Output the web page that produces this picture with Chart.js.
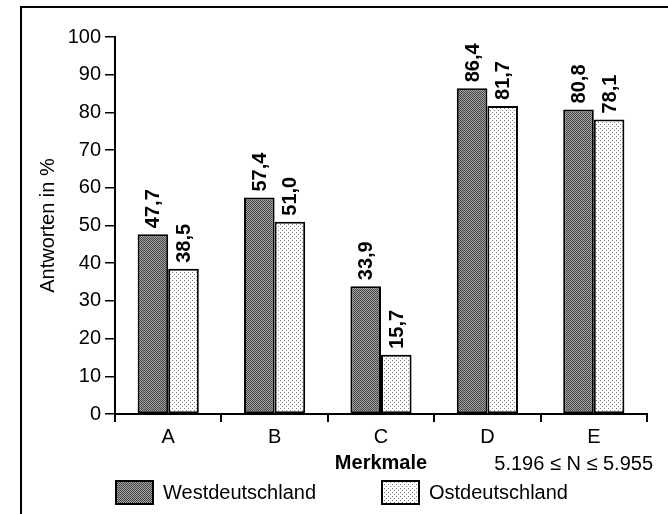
<!DOCTYPE html>
<html>
<head>
<meta charset="utf-8">
<script src="https://cdn.jsdelivr.net/npm/chart.js@4.4.1/dist/chart.umd.min.js"></script>
<style>
  html, body { margin: 0; padding: 0; background: #fff; }
  #wrap { width: 668px; height: 514px; position: relative; }
</style>
</head>
<body>
<div id="wrap"><canvas id="chart" width="668" height="514"></canvas></div>
<script>
// data
const categories = ['A', 'B', 'C', 'D', 'E'];
const westValues = [47.7, 57.4, 33.9, 86.4, 80.8];
const eastValues = [38.5, 51.0, 15.7, 81.7, 78.1];
const seriesNames = ['Westdeutschland', 'Ostdeutschland'];
const yTicks = [0, 10, 20, 30, 40, 50, 60, 70, 80, 90, 100];
const noteText = '5.196 \u2264 N \u2264 5.955';

const FONT = 'Arial, "Liberation Sans", sans-serif';

function makePattern(size, bg, fg, dots) {
    const c = document.createElement('canvas');
    c.width = size; c.height = size;
    const g = c.getContext('2d');
    g.fillStyle = bg;
    g.fillRect(0, 0, size, size);
    g.fillStyle = fg;
    dots.forEach(([x, y]) => g.fillRect(x, y, 1, 1));
    return g.createPattern(c, 'repeat');
}

const ctx = document.getElementById('chart').getContext('2d');
const westFill = makePattern(2, '#a0a0a0', '#484848', [[0, 0], [1, 1]]);
const eastFill = makePattern(4, '#ffffff', '#808080', [[0, 0], [2, 2]]);

const fmt = v => v.toFixed(1).replace('.', ',');

// outer frame (only top and left edges fall inside the window)
const framePlugin = {
    id: 'frame',
    beforeDraw(chart) {
        const c = chart.ctx;
        c.save();
        c.strokeStyle = '#000';
        c.lineWidth = 2;
        c.beginPath();
        c.moveTo(21, chart.height);
        c.lineTo(21, 7);
        c.lineTo(chart.width, 7);
        c.stroke();
        c.restore();
    }
};

// rotated value labels above each bar
const valueLabels = {
    id: 'valueLabels',
    afterDatasetsDraw(chart) {
        const c = chart.ctx;
        c.save();
        c.fillStyle = '#000';
        c.font = 'bold 20px ' + FONT;
        c.textAlign = 'left';
        c.textBaseline = 'middle';
        chart.data.datasets.forEach((ds, i) => {
            chart.getDatasetMeta(i).data.forEach((bar, j) => {
                c.save();
                c.translate(bar.x, bar.y - 6);
                c.rotate(-Math.PI / 2);
                c.fillText(fmt(ds.data[j]), 0, 1);
                c.restore();
            });
        });
        c.restore();
    }
};

// sample size note and legend under the axis
const footer = {
    id: 'footer',
    afterDraw(chart) {
        const c = chart.ctx;
        const area = chart.chartArea;
        c.save();
        c.fillStyle = '#000';
        c.font = '20px ' + FONT;
        c.textBaseline = 'middle';
        c.textAlign = 'right';
        c.fillText(noteText, area.right + 6, 464);

        c.textAlign = 'left';
        chart.data.datasets.forEach((ds, i) => {
            const x = area.left + i * (area.right - area.left) / 2;
            const y = 480;
            c.fillStyle = ds.backgroundColor;
            c.fillRect(x, y, 39, 25);
            c.strokeStyle = '#000';
            c.lineWidth = 2;
            c.strokeRect(x + 1, y + 1, 37, 23);
            c.fillStyle = '#000';
            c.fillText(ds.label, x + 48, y + 13);
        });
        c.restore();
    }
};

new Chart(ctx, {
    type: 'bar',
    data: {
        labels: categories,
        datasets: [
            { label: seriesNames[0], data: westValues, backgroundColor: westFill },
            { label: seriesNames[1], data: eastValues, backgroundColor: eastFill }
        ]
    },
    options: {
        responsive: false,
        animation: false,
        events: [],
        layout: { padding: { left: 20, right: 21, top: 37, bottom: 39 } },
        datasets: {
            bar: {
                borderColor: '#000',
                borderWidth: 2,
                borderSkipped: false,
                categoryPercentage: 0.575,
                barPercentage: 1.0
            }
        },
        plugins: {
            legend: { display: false },
            tooltip: { enabled: false }
        },
        scales: {
            x: {
                grid: {
                    display: true,
                    drawOnChartArea: false,
                    drawTicks: true,
                    tickLength: 8,
                    color: '#000',
                    lineWidth: 2,
                    offset: true
                },
                border: { display: true, color: '#000', width: 2 },
                ticks: { color: '#000', font: { family: FONT, size: 20 }, padding: 3 },
                title: {
                    display: true,
                    text: 'Merkmale',
                    color: '#000',
                    font: { family: FONT, size: 20, weight: 'bold' },
                    padding: { top: 0, bottom: 0 }
                },
                afterFit(scale) { scale.height = 61; }
            },
            y: {
                min: 0,
                max: 100,
                afterBuildTicks(scale) { scale.ticks = yTicks.map(v => ({ value: v })); },
                grid: {
                    display: true,
                    drawOnChartArea: false,
                    drawTicks: true,
                    tickLength: 10,
                    color: '#000',
                    lineWidth: 1.5
                },
                border: { display: true, color: '#000', width: 2 },
                ticks: { color: '#000', font: { family: FONT, size: 20 }, padding: 4 },
                title: {
                    display: true,
                    text: 'Antworten in %',
                    color: '#000',
                    font: { family: FONT, size: 20 },
                    padding: { top: 16, bottom: 0 }
                },
                afterFit(scale) { scale.width = 95; }
            }
        }
    },
    plugins: [framePlugin, valueLabels, footer]
});
</script>
</body>
</html>
